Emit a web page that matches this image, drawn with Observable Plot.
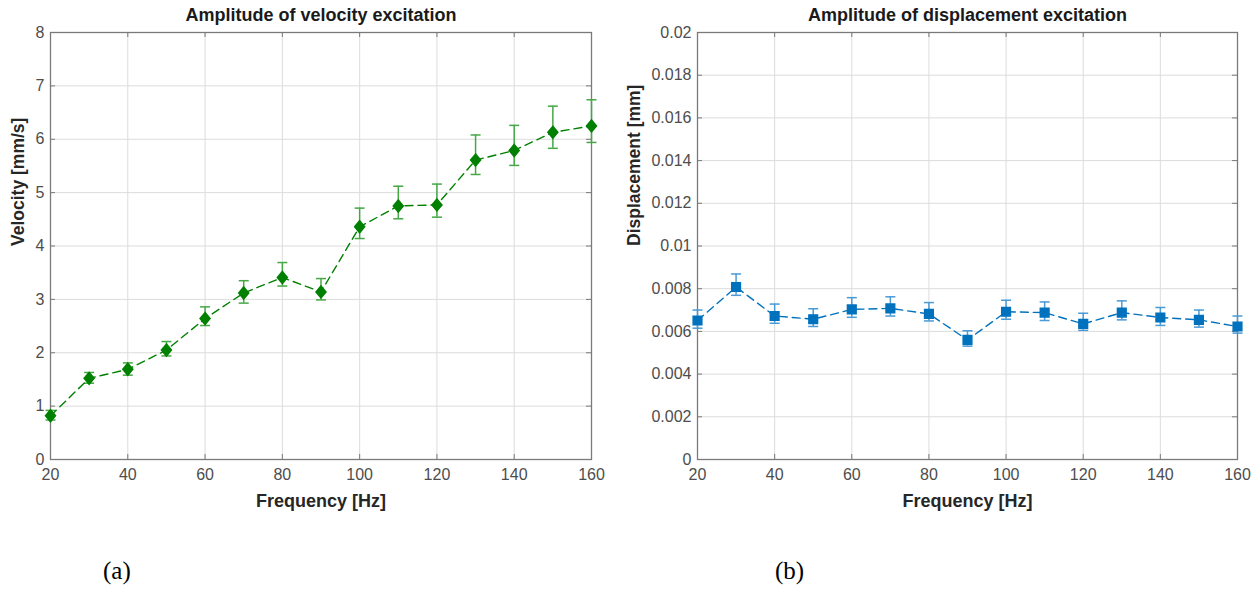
<!DOCTYPE html>
<html>
<head>
<meta charset="utf-8">
<script src="https://cdn.jsdelivr.net/npm/d3@7"></script>
<script src="https://cdn.jsdelivr.net/npm/@observablehq/plot@0.6"></script>
<style>
  html, body { margin: 0; padding: 0; background: #fff; }
  #wrap { position: relative; width: 1256px; height: 590px; font-family: "Liberation Sans", Arial, sans-serif; background: #fff; }
  #left { position: absolute; left: 0; top: 0; z-index: 2; }
  #right { position: absolute; left: 600px; top: 0; z-index: 1; }
  .sub { position: absolute; top: 557px; font-family: "Liberation Serif", "Times New Roman", serif; font-size: 25px; color: #000; }
</style>
</head>
<body>
<div id="wrap">
  <div id="right"></div>
  <div id="left"></div>
  <div class="sub" style="left:103px">(a)</div>
  <div class="sub" style="left:775px">(b)</div>
</div>
<script>
const freq = [20, 30, 40, 50, 60, 70, 80, 90, 100, 110, 120, 130, 140, 150, 160];
const freqTicks = [20, 40, 60, 80, 100, 120, 140, 160];

const velocity     = [0.82, 1.52, 1.69, 2.05, 2.64, 3.12, 3.41, 3.14, 4.36, 4.75, 4.77, 5.61, 5.79, 6.13, 6.25];
const velocityHigh = [0.92, 1.63, 1.81, 2.21, 2.86, 3.35, 3.69, 3.39, 4.71, 5.12, 5.16, 6.08, 6.26, 6.62, 6.74];
const velocityLow  = [0.74, 1.43, 1.58, 1.94, 2.51, 2.93, 3.25, 2.99, 4.14, 4.51, 4.54, 5.34, 5.51, 5.83, 5.94];
const velocityTicks = [0, 1, 2, 3, 4, 5, 6, 7, 8];

const displacement     = [0.00651, 0.00808, 0.00672, 0.00657, 0.00703, 0.00708, 0.00682, 0.00560, 0.00692, 0.00688, 0.00635, 0.00688, 0.00665, 0.00654, 0.00623];
const displacementHigh = [0.00700, 0.00869, 0.00728, 0.00706, 0.00758, 0.00762, 0.00735, 0.00603, 0.00746, 0.00738, 0.00685, 0.00743, 0.00712, 0.00700, 0.00672];
const displacementLow  = [0.00615, 0.00769, 0.00638, 0.00623, 0.00666, 0.00672, 0.00649, 0.00531, 0.00657, 0.00651, 0.00605, 0.00654, 0.00628, 0.00620, 0.00592];
const displacementTicks = [0, 0.002, 0.004, 0.006, 0.008, 0.01, 0.012, 0.014, 0.016, 0.018, 0.02];

const capSymbol = {
  draw(context, size) {
    const w = Math.sqrt(size / Math.PI);
    context.moveTo(-w, 0);
    context.lineTo(w, 0);
  }
};
const diamondSymbol = {
  draw(context, size) {
    const s = Math.sqrt(size / Math.PI);
    const h = s * 1.2, w = s * 1.0;
    context.moveTo(0, -h);
    context.lineTo(w, 0);
    context.lineTo(0, h);
    context.lineTo(-w, 0);
    context.closePath();
  }
};

const tickColor = "#4d4d4d";
const labelColor = "#262626";

function panel({title, ylabel, yDomain, yTicks, yFormat, values, low, high, color, errColor, symbol, r, marginLeft, marginRight, labelOffset, W}) {
  const rows = freq.map((f, i) => ({f, v: values[i], lo: low[i], hi: high[i]}));
  const H = 530, mt = 32, mb = 71;
  const ph = H - mt - mb, pw = W - marginLeft - marginRight;
  const tk = 5;
  return Plot.plot({
    width: W, height: H,
    marginLeft, marginRight, marginTop: mt, marginBottom: mb,
    style: {fontFamily: "'Liberation Sans', Arial, sans-serif", fontSize: "16px", color: tickColor, background: "none", overflow: "visible"},
    x: {domain: [20, 160]},
    y: {domain: yDomain},
    marks: [
      Plot.gridX(freqTicks, {stroke: "#dcdcdc", strokeOpacity: 1}),
      Plot.gridY(yTicks, {stroke: "#dcdcdc", strokeOpacity: 1}),
      Plot.frame({stroke: "#7a7a7a", strokeWidth: 1.3}),
      Plot.tickX(freqTicks, {x: d => d, insetTop: ph - tk, stroke: "#7a7a7a"}),
      Plot.tickX(freqTicks, {x: d => d, insetBottom: ph - tk, stroke: "#7a7a7a"}),
      Plot.tickY(yTicks, {y: d => d, insetRight: pw - tk, stroke: "#7a7a7a"}),
      Plot.tickY(yTicks, {y: d => d, insetLeft: pw - tk, stroke: "#7a7a7a"}),
      Plot.axisX(freqTicks, {tickSize: 0, tickPadding: 9, label: null, fontSize: 16, fill: tickColor}),
      Plot.axisY(yTicks, {tickSize: 0, tickPadding: 6, tickFormat: yFormat, label: null, fontSize: 16, fill: tickColor}),
      Plot.text(["Frequency [Hz]"], {frameAnchor: "bottom", dy: 47, fontWeight: "bold", fontSize: 18, letterSpacing: "0.7px", fill: labelColor}),
      Plot.text([ylabel], {frameAnchor: "left", dx: -labelOffset, rotate: -90, fontWeight: "bold", fontSize: 17.5, letterSpacing: "0.8px", fill: labelColor}),
      Plot.text([title], {frameAnchor: "top", dy: -24, fontWeight: "bold", fontSize: 18, letterSpacing: "0.5px", fill: "#1a1a1a"}),
      Plot.ruleX(rows, {x: "f", y1: "lo", y2: "hi", stroke: errColor, strokeWidth: 1.5}),
      Plot.dot(rows, {x: "f", y: "lo", symbol: capSymbol, r: 5, stroke: errColor, strokeWidth: 1.5}),
      Plot.dot(rows, {x: "f", y: "hi", symbol: capSymbol, r: 5, stroke: errColor, strokeWidth: 1.5}),
      Plot.line(rows, {x: "f", y: "v", stroke: color, strokeWidth: 1.4, strokeDasharray: "8,5"}),
      Plot.dot(rows, {x: "f", y: "v", symbol, r, fill: color, stroke: color})
    ]
  });
}

document.getElementById("left").append(panel({
  title: "Amplitude of velocity excitation",
  ylabel: "Velocity [mm/s]",
  yDomain: [0, 8], yTicks: velocityTicks, yFormat: d => String(d),
  values: velocity, low: velocityLow, high: velocityHigh,
  color: "#008000", errColor: "#45a845", symbol: diamondSymbol, r: 5,
  marginLeft: 50, marginRight: 37, labelOffset: 32, W: 628
}));

document.getElementById("right").append(panel({
  title: "Amplitude of displacement excitation",
  ylabel: "Displacement [mm]",
  yDomain: [0, 0.02], yTicks: displacementTicks, yFormat: d => String(+d.toFixed(4)),
  values: displacement, low: displacementLow, high: displacementHigh,
  color: "#0072BD", errColor: "#4a9ad6", symbol: "square", r: 4.9,
  marginLeft: 97, marginRight: 19, labelOffset: 63, W: 656
}));
</script>
</body>
</html>
